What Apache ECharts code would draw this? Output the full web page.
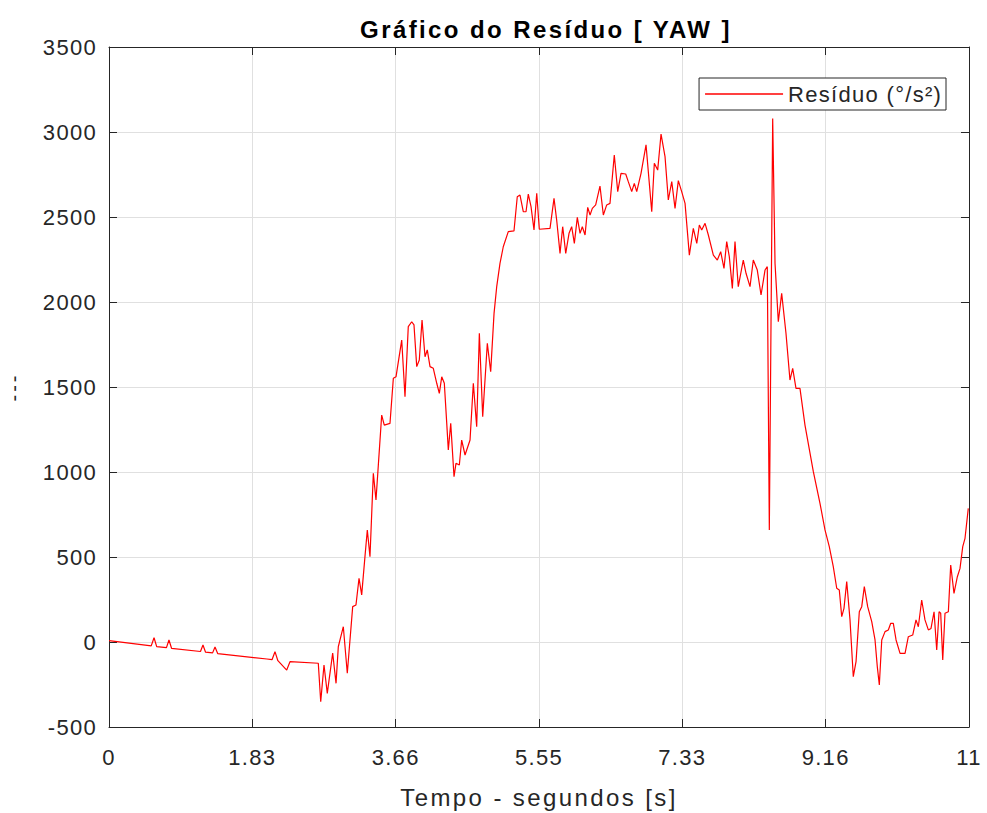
<!DOCTYPE html>
<html>
<head>
<meta charset="utf-8">
<script src="https://cdn.jsdelivr.net/npm/echarts@6/dist/echarts.min.js"></script>
<style>
html,body{margin:0;padding:0;background:#fff;}
#chart{width:987px;height:813px;}
#chart text[style*="20px"]{letter-spacing:3px;}
#chart text[style*="22px"]{letter-spacing:1.3px;}
#chart text[style*="24px"]{letter-spacing:2.4px;}
</style>
</head>
<body>
<div id="chart"></div>
<script>
// ---- Data ----
const timeValues = [0,0.54,0.576,0.61,0.735,0.767,0.80,1.17,1.202,1.235,1.325,1.356,1.39,2.02,2.085,2.123,2.16,2.273,2.315,2.677,2.708,2.75,2.792,2.861,2.904,2.933,2.997,3.048,3.117,3.159,3.198,3.232,3.274,3.304,3.338,3.381,3.415,3.445,3.488,3.521,3.594,3.637,3.671,3.744,3.786,3.828,3.872,3.901,3.936,3.969,4.004,4.042,4.071,4.106,4.148,4.192,4.225,4.256,4.289,4.320,4.340,4.371,4.413,4.438,4.481,4.511,4.554,4.618,4.660,4.703,4.737,4.780,4.839,4.882,4.925,4.959,5.001,5.043,5.107,5.180,5.222,5.257,5.299,5.334,5.363,5.398,5.436,5.471,5.504,5.641,5.692,5.726,5.769,5.803,5.842,5.884,5.918,5.952,5.990,6.025,6.054,6.089,6.123,6.153,6.182,6.225,6.280,6.323,6.366,6.408,6.463,6.507,6.549,6.609,6.642,6.686,6.719,6.750,6.805,6.869,6.942,6.975,7.018,7.061,7.112,7.154,7.198,7.240,7.282,7.325,7.368,7.423,7.474,7.518,7.551,7.581,7.624,7.666,7.730,7.781,7.824,7.866,7.901,7.934,7.973,8.007,8.049,8.113,8.148,8.199,8.241,8.292,8.340,8.391,8.420,8.446,8.489,8.519,8.561,8.604,8.659,8.710,8.745,8.787,8.838,8.902,9.009,9.094,9.158,9.213,9.264,9.308,9.341,9.372,9.401,9.436,9.478,9.520,9.555,9.597,9.628,9.661,9.704,9.756,9.798,9.827,9.853,9.884,9.926,9.968,9.999,10.032,10.067,10.118,10.182,10.224,10.280,10.322,10.352,10.395,10.437,10.480,10.514,10.553,10.587,10.617,10.638,10.664,10.693,10.736,10.766,10.808,10.851,10.885,10.920,10.949,10.991];
const residuoValues = [8,-23,25,-27,-33,12,-37,-56,-18,-60,-64,-29,-68,-100,-104,-57,-110,-165,-116,-125,-351,-135,-302,-65,-243,-28,90,-184,208,218,375,277,502,659,502,992,835,1041,1335,1276,1286,1551,1560,1776,1443,1855,1884,1865,1620,1659,1894,1678,1718,1620,1610,1522,1463,1560,1522,1286,1129,1286,972,1051,1041,1188,1100,1188,1522,1267,1816,1325,1757,1590,1933,2090,2227,2325,2414,2418,2619,2629,2531,2531,2635,2561,2424,2639,2428,2433,2610,2482,2286,2443,2286,2404,2443,2345,2498,2404,2443,2394,2557,2512,2551,2571,2682,2512,2571,2580,2865,2649,2757,2753,2708,2649,2698,2649,2757,2924,2531,2816,2776,2988,2855,2600,2708,2551,2714,2649,2580,2276,2433,2345,2453,2424,2463,2394,2276,2247,2296,2198,2355,2267,2080,2355,2090,2247,2169,2090,2247,2188,2041,2188,2208,659,3080,2227,1884,2051,1816,1541,1610,1492,1492,1276,1002,816,659,561,443,316,306,149,198,355,130,-204,-116,178,208,326,208,120,12,-145,-253,12,61,71,110,110,12,-67,-67,31,41,130,90,247,130,71,80,178,-47,178,169,-106,169,178,453,286,384,433,561,610,786];
const xTickLabels = ["0","1.83","3.66","5.55","7.33","9.16","11"];
const xMin = 0, xMax = 11;
const yMin = -500, yMax = 3500, yStep = 500;
const seriesName = "Resíduo (°/s²)";
const titleText = "Gráfico do Resíduo [ YAW ]";
const xAxisName = "Tempo - segundos [s]";
const yAxisName = "---";

const points = timeValues.map((t, i) => [t, residuoValues[i]]);
const xStep = (xMax - xMin) / (xTickLabels.length - 1);
const FONT = "Liberation Sans";
const TXT = "#262626";
const GRID = "#e0e0e0";

const chart = echarts.init(document.getElementById('chart'), null, {renderer: 'svg'});
const xLabelFmt = v => {
  const k = Math.round((v - xMin) / xStep);
  return xTickLabels[k] !== undefined ? xTickLabels[k] : '';
};
const baseX = {
  type: 'value', min: xMin, max: xMax, interval: xStep,
  axisLine: {show: true, onZero: false, lineStyle: {color: TXT, width: 1}},
  axisTick: {show: true, inside: true, length: 8, lineStyle: {color: TXT}},
};
const baseY = {
  type: 'value', min: yMin, max: yMax, interval: yStep,
  axisLine: {show: true, onZero: false, lineStyle: {color: TXT, width: 1}},
  axisTick: {show: true, inside: true, length: 8, lineStyle: {color: TXT}},
};
chart.setOption({
  animation: false,
  backgroundColor: '#ffffff',
  title: {
    text: titleText, left: 541, top: 12, textAlign: 'center',
    textStyle: {fontFamily: FONT, fontWeight: 'bold', fontSize: 24, color: '#000'}
  },
  legend: {
    data: [{name: seriesName, icon: 'rect'}], right: 41, top: 78,
    orient: 'horizontal',
    backgroundColor: '#fff', borderColor: TXT, borderWidth: 1, borderRadius: 0,
    padding: [5, 22, 5, 6],
    itemWidth: 78, itemHeight: 1.5, itemGap: 6,
    itemStyle: {color: '#ff0000'},
    textStyle: {fontFamily: FONT, fontSize: 22, color: TXT}
  },
  grid: {left: 109, right: 18, top: 47, bottom: 86, containLabel: false, outerBoundsMode: 'none'},
  xAxis: [
    Object.assign({}, baseX, {
      position: 'bottom',
      name: xAxisName, nameLocation: 'middle', nameGap: 58,
      nameTextStyle: {fontFamily: FONT, fontSize: 24, color: TXT},
      axisLabel: {show: true, formatter: xLabelFmt, fontFamily: FONT, fontSize: 22, color: TXT, margin: 19},
      splitLine: {show: true, lineStyle: {color: GRID, width: 1}}
    }),
    Object.assign({}, baseX, {
      position: 'top', axisLabel: {show: false}, splitLine: {show: false}
    })
  ],
  yAxis: [
    Object.assign({}, baseY, {
      position: 'left',
      name: yAxisName, nameLocation: 'middle', nameGap: 85, nameRotate: 90,
      nameTextStyle: {fontFamily: FONT, fontSize: 20, color: TXT},
      axisLabel: {show: true, formatter: v => String(v), fontFamily: FONT, fontSize: 22, color: TXT, margin: 12},
      splitLine: {show: true, lineStyle: {color: GRID, width: 1}}
    }),
    Object.assign({}, baseY, {
      position: 'right', axisLabel: {show: false}, splitLine: {show: false}
    })
  ],
  series: [{
    name: seriesName, type: 'line', data: points,
    xAxisIndex: 0, yAxisIndex: 0,
    symbol: 'none', showSymbol: false,
    lineStyle: {color: '#ff0000', width: 1.2},
    itemStyle: {color: '#ff0000'}
  }]
});
</script>
</body>
</html>
